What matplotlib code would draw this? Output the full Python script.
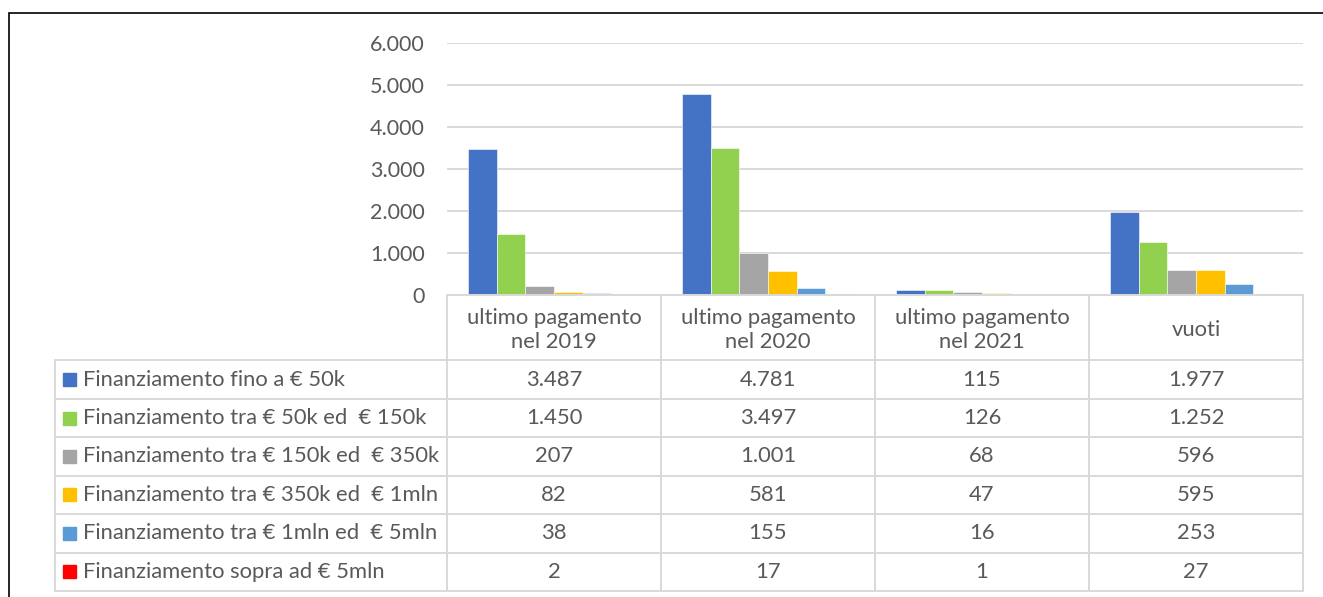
import numpy as np
import matplotlib
matplotlib.use("Agg")
import matplotlib.pyplot as plt
from matplotlib.patches import Rectangle

plt.rcParams['font.family'] = ['Lato', 'DejaVu Sans']

categories = ['ultimo pagamento\nnel 2019', 'ultimo pagamento\nnel 2020',
              'ultimo pagamento\nnel 2021', 'vuoti']
series = ['Finanziamento fino a € 50k',
          'Finanziamento tra € 50k ed  € 150k',
          'Finanziamento tra € 150k ed  € 350k',
          'Finanziamento tra € 350k ed  € 1mln',
          'Finanziamento tra € 1mln ed  € 5mln',
          'Finanziamento sopra ad € 5mln']
fino_50k = [3487, 4781, 115, 1977]
tra_50_150k = [1450, 3497, 126, 1252]
tra_150_350k = [207, 1001, 68, 596]
tra_350k_1mln = [82, 581, 47, 595]
tra_1_5mln = [38, 155, 16, 253]
sopra_5mln = [2, 17, 1, 27]
values = [fino_50k, tra_50_150k, tra_150_350k, tra_350k_1mln, tra_1_5mln, sopra_5mln]
colors = ['#4472C4', '#92D050', '#A5A5A5', '#FFC000', '#5B9BD5', '#FF0000']
yticks = [0, 1000, 2000, 3000, 4000, 5000, 6000]

W, H = 1323, 597
txt = '#595959'
grid = '#d9d9d9'
fs = 15.8


def fmt(v):
    return f'{v:,}'.replace(',', '.')


def fx(px):
    return px / W


def fy(py):
    return 1 - py / H


fig = plt.figure(figsize=(W / 100, H / 100), dpi=100)

# outer frame (cropped on right/bottom)
fig.patches.append(Rectangle((fx(9), fy(640)), fx(1400), fy(13) - fy(640),
                             transform=fig.transFigure, fill=False,
                             edgecolor='black', linewidth=1.2))

# chart
ax_l, ax_r, ax_t, ax_b = 447, 1303, 43, 295
ax = fig.add_axes([fx(ax_l), fy(ax_b), fx(ax_r - ax_l), fy(ax_t) - fy(ax_b)])
n = len(series)
x = np.arange(len(categories))
bw = 1 / (n + 1.5)
for i, (vals, c) in enumerate(zip(values, colors)):
    ax.bar(x - n * bw / 2 + (i + 0.5) * bw, vals, width=bw, color=c,
           edgecolor='white', linewidth=0.4, zorder=3)
ax.set_xlim(-0.5, len(categories) - 0.5)
ax.set_ylim(0, 6000)
ax.set_yticks(yticks)
ax.set_yticklabels([fmt(v) for v in yticks], color=txt, fontsize=15.5)
ax.tick_params(axis='y', length=0, pad=16)
ax.set_xticks([])
ax.grid(axis='y', color=grid, linewidth=1.4, zorder=0)
for s in ax.spines.values():
    s.set_visible(False)

# data table
tb_l, tb_t, tb_b = 55, 295, 591
head_h = 1.7
tab = fig.add_axes([fx(tb_l), fy(tb_b), fx(ax_r - tb_l), fy(tb_t) - fy(tb_b)])
unit = (ax_r - ax_l) / len(categories)
x0 = -0.5 - (ax_l - tb_l) / unit
x1 = len(categories) - 0.5
y1 = head_h + n
tab.set_xlim(x0, x1)
tab.set_ylim(y1, 0)
tab.axis('off')
lw = 1.4
# horizontal lines
tab.plot([-0.5, x1], [0, 0], color=grid, lw=lw, clip_on=False)
for r in range(n + 1):
    y = head_h + r
    tab.plot([x0, x1], [y, y], color=grid, lw=lw, clip_on=False)
# vertical lines
tab.plot([x0, x0], [head_h, y1], color=grid, lw=lw, clip_on=False)
for k in range(len(categories) + 1):
    xv = k - 0.5
    tab.plot([xv, xv], [0, y1], color=grid, lw=lw, clip_on=False)

for k, cat in enumerate(categories):
    tab.text(k, head_h / 2 + 0.06, cat, ha='center', va='center', color=txt,
             fontsize=fs, linespacing=1.3)
    for r in range(n):
        tab.text(k, head_h + r + 0.5, fmt(values[r][k]), ha='center',
                 va='center', color=txt, fontsize=fs)

sq = 13 / ((tb_b - tb_t) / y1)
for r in range(n):
    yc = head_h + r + 0.5
    tab.add_patch(Rectangle((x0 + 8 / unit, yc - sq / 2), 13 / unit, sq,
                            color=colors[r], clip_on=False))
    tab.text(x0 + 28 / unit, yc, series[r], ha='left', va='center',
             color=txt, fontsize=fs)

fig.savefig('out.png', dpi=100)
